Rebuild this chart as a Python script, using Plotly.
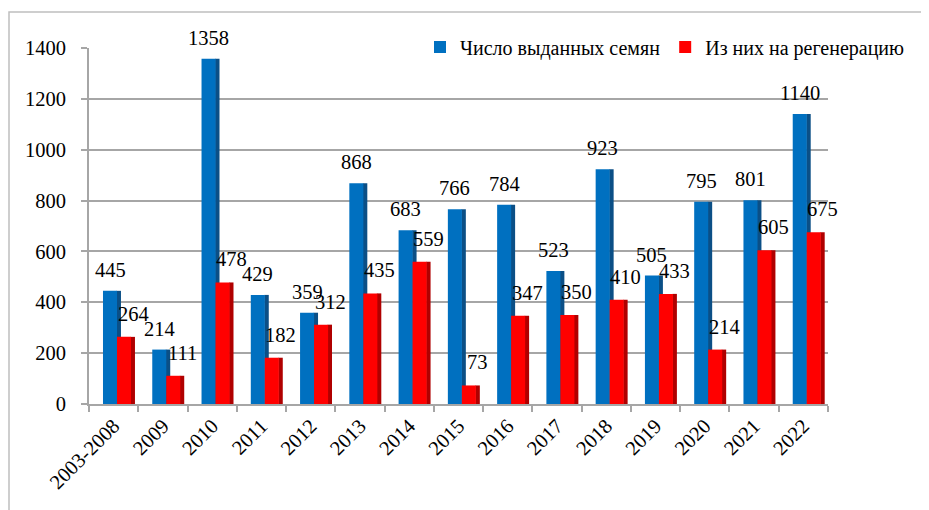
import plotly.graph_objects as go

categories = ["2003-2008", "2009", "2010", "2011", "2012", "2013", "2014", "2015",
              "2016", "2017", "2018", "2019", "2020", "2021", "2022"]
issued = [445, 214, 1358, 429, 359, 868, 683, 766, 784, 523, 923, 505, 795, 801, 1140]
regen = [264, 111, 478, 182, 312, 435, 559, 73, 347, 350, 410, 433, 214, 605, 675]
y_ticks = [0, 200, 400, 600, 800, 1000, 1200, 1400]

FONT = "Liberation Serif, serif"
FS = 20.5
BLUE, BLUE_SIDE = "#0070C0", "#0B4F86"
RED, RED_SIDE = "#FF0000", "#B00000"

# the page body adds an 8px margin, so the figure is 8px smaller and shifted
PAD = 8
W, H = 929 - PAD, 510 - PAD
L, R, T, B = 89 - PAD, 101, 48 - PAD, 106
pw, ph = W - L - R, H - T - B

BW = 0.285
B_OFF, R_OFF = -0.216, 0.068
SIDE = 0.09

idx = list(range(len(categories)))

fig = go.Figure()
fig.add_trace(go.Bar(x=idx, y=issued, offset=B_OFF + BW - 0.01, width=SIDE,
                     marker=dict(color=BLUE_SIDE, line=dict(width=0)),
                     showlegend=False, hoverinfo="skip"))
fig.add_trace(go.Bar(x=idx, y=issued, name="Число выданных семян",
                     offset=B_OFF, width=BW,
                     marker=dict(color=BLUE, line=dict(width=0))))
fig.add_trace(go.Bar(x=idx, y=regen, offset=R_OFF + BW - 0.01, width=SIDE,
                     marker=dict(color=RED_SIDE, line=dict(width=0)),
                     showlegend=False, hoverinfo="skip"))
fig.add_trace(go.Bar(x=idx, y=regen, name="Из них на регенерацию",
                     offset=R_OFF, width=BW,
                     marker=dict(color=RED, line=dict(width=0))))

annotations = []
for i, v in zip(idx, issued):
    annotations.append(dict(x=i + B_OFF + BW / 2, y=v, text=str(v), showarrow=False,
                            yshift=21, yanchor="middle", xanchor="center",
                            font=dict(family=FONT, size=FS, color="black")))
for i, v in zip(idx, regen):
    annotations.append(dict(x=i + R_OFF + BW / 2, y=v, text=str(v), showarrow=False,
                            xshift=9, yshift=23, yanchor="middle", xanchor="center",
                            font=dict(family=FONT, size=FS, color="black")))

fig.update_layout(
    width=W, height=H,
    margin=dict(l=L, r=R, t=T, b=B, autoexpand=False),
    paper_bgcolor="white", plot_bgcolor="white",
    barmode="overlay",
    font=dict(family=FONT, size=FS, color="black"),
    showlegend=True,
    legend=dict(orientation="h", x=(412 - L) / pw, y=(H - B - 39) / ph,
                xanchor="left", yanchor="middle",
                font=dict(family=FONT, size=20, color="black"),
                bgcolor="rgba(0,0,0,0)", traceorder="normal"),
    xaxis=dict(range=[-0.5, len(categories) - 0.5], tickmode="array",
               tickvals=idx, ticktext=categories,
               tickangle=-45, showline=True, linecolor="#A6A6A6", linewidth=2,
               ticks="", showgrid=False, zeroline=False, automargin=False,
               minor=dict(tickmode="array", tickvals=[i - 0.5 for i in idx] + [len(idx) - 0.5],
                          ticks="outside", ticklen=6, tickcolor="#A6A6A6", tickwidth=2,
                          showgrid=False),
               tickfont=dict(family=FONT, size=FS, color="black")),
    yaxis=dict(range=[0, 1400], tickvals=y_ticks, showgrid=True,
               gridcolor="#A6A6A6", gridwidth=2, showline=True,
               linecolor="#A6A6A6", linewidth=2, ticks="outside", ticklen=6,
               tickcolor="#A6A6A6", tickwidth=2, zeroline=False, automargin=False,
               ticklabelstandoff=11,
               tickfont=dict(family=FONT, size=FS, color="black")),
    annotations=annotations,
    shapes=[dict(type="rect", xref="paper", yref="paper",
                 x0=(1 - L) / pw, x1=(W + 20 - L) / pw,
                 y0=-(B + 20) / ph, y1=(H - B - 4) / ph,
                 line=dict(color="#BFBFBF", width=1.5), layer="below")],
)

fig.write_html("out.html")
